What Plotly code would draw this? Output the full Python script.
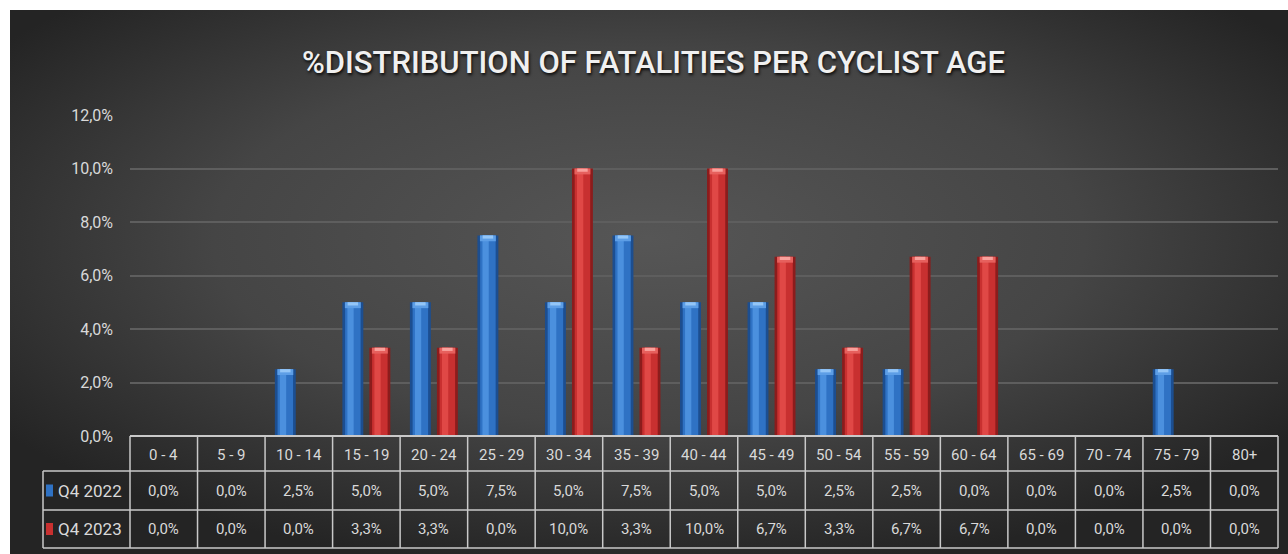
import base64
import plotly.graph_objects as go

# ---- data -------------------------------------------------------------
age_groups = ["0 - 4", "5 - 9", "10 - 14", "15 - 19", "20 - 24", "25 - 29", "30 - 34",
              "35 - 39", "40 - 44", "45 - 49", "50 - 54", "55 - 59", "60 - 64",
              "65 - 69", "70 - 74", "75 - 79", "80+"]
q4_2022 = [0.0, 0.0, 2.5, 5.0, 5.0, 7.5, 5.0, 7.5, 5.0, 5.0, 2.5, 2.5, 0.0, 0.0, 0.0, 2.5, 0.0]
q4_2023 = [0.0, 0.0, 0.0, 3.3, 3.3, 0.0, 10.0, 3.3, 10.0, 6.7, 3.3, 6.7, 6.7, 0.0, 0.0, 0.0, 0.0]
series_names = ["Q4 2022", "Q4 2023"]
y_tick_values = [0, 2, 4, 6, 8, 10, 12]
y_tick_labels = ["0,0%", "2,0%", "4,0%", "6,0%", "8,0%", "10,0%", "12,0%"]
title_text = "%DISTRIBUTION OF FATALITIES PER CYCLIST AGE"

# ---- geometry -----------------------------------------------------------
W, H = 1288, 554
L, R, T, B = 130, 10, 115, 118
PW, PH = W - L - R, H - T - B
N = len(age_groups)

FONT = "Roboto, Liberation Sans, sans-serif"
TXT = "#d9d9d9"
LINE = "#c9c9c9"


def px_x(X):
    return (X - L) / PW


def px_y(Y):
    return (H - B - Y) / PH


def pct(v):
    return f"{v:.1f}".replace(".", ",") + "%"


# bar styling: (edge, body, shine, cap outer, cap inner)
styles = [
    ("#1c4e90", "#2f72c4", "#4b90de", "#5d9ee6", "#94c6f7"),
    ("#8c1c1c", "#c83030", "#e04846", "#e6605d", "#f9a19c"),
]
offsets = [-0.355, 0.045]
bar_w = 0.31
cap_h = 0.22

fig = go.Figure()

for vals, name, (edge, body, shine, cap_o, cap_i), off in zip(
        [q4_2022, q4_2023], series_names, styles, offsets):
    y = [v if v > 0 else None for v in vals]
    cap_base = [v - cap_h if v > 0 else None for v in vals]
    cap_y = [cap_h if v > 0 else None for v in vals]
    inner_base = [v - cap_h * 0.55 if v > 0 else None for v in vals]
    inner_y = [cap_h * 0.55 if v > 0 else None for v in vals]
    layers = [
        (y, None, edge, off, bar_w),
        (y, None, body, off + 0.13 * bar_w, 0.74 * bar_w),
        (y, None, shine, off + 0.24 * bar_w, 0.30 * bar_w),
        (cap_y, cap_base, cap_o, off + 0.12 * bar_w, 0.76 * bar_w),
        (inner_y, inner_base, cap_i, off + 0.25 * bar_w, 0.50 * bar_w),
    ]
    for yy, base, color, o, w in layers:
        fig.add_trace(go.Bar(
            x=age_groups, y=yy, base=base, name=name, offset=o, width=w,
            marker=dict(color=color, line=dict(width=0)),
            showlegend=False, hoverinfo="skip",
        ))

# ---- background ---------------------------------------------------------
svg = (
    '<svg xmlns="http://www.w3.org/2000/svg" width="1278" height="544" '
    'viewBox="0 0 1278 544" preserveAspectRatio="none">'
    '<defs><radialGradient id="g" cx="0.5" cy="0.42" r="0.62">'
    '<stop offset="0" stop-color="#565656"/>'
    '<stop offset="0.55" stop-color="#454545"/>'
    '<stop offset="1" stop-color="#242424"/>'
    '</radialGradient></defs>'
    '<rect width="1278" height="544" fill="url(#g)"/></svg>'
)
bg_src = "data:image/svg+xml;base64," + base64.b64encode(svg.encode()).decode()

shapes = []
annotations = []

# ---- data table under the axis -------------------------------------------
row_top = [436, 471, 510, 548]
label_left = 43
right_edge = L + PW


def hline(Y, X0, X1, w=1.5):
    shapes.append(dict(type="line", xref="paper", yref="paper",
                       x0=px_x(X0), x1=px_x(X1), y0=px_y(Y), y1=px_y(Y),
                       line=dict(color=LINE, width=w)))


def vline(xp, Y0, Y1, w=1.5):
    shapes.append(dict(type="line", xref="paper", yref="paper",
                       x0=xp, x1=xp, y0=px_y(Y0), y1=px_y(Y1),
                       line=dict(color=LINE, width=w)))


def label(x, y, text, size=15, xanchor="center"):
    annotations.append(dict(xref="paper", yref="paper", x=x, y=y, text=text,
                            xanchor=xanchor, yanchor="middle", showarrow=False,
                            font=dict(family=FONT, size=size, color=TXT)))


hline(row_top[0], L, right_edge, 2)
for Y in row_top[1:]:
    hline(Y, label_left, right_edge)
for i in range(N + 1):
    vline(i / N, row_top[0], row_top[3])
vline(px_x(label_left), row_top[1], row_top[3])

# header row (category labels)
for i, g in enumerate(age_groups):
    label((i + 0.5) / N, px_y((row_top[0] + row_top[1]) / 2 + 1), g)

# value rows with legend keys
for r, (vals, name, st) in enumerate(zip([q4_2022, q4_2023], series_names, styles)):
    ym = (row_top[r + 1] + row_top[r + 2]) / 2
    for i, v in enumerate(vals):
        label((i + 0.5) / N, px_y(ym), pct(v))
    label(px_x(56), px_y(ym), name, size=17, xanchor="left")
    shapes.append(dict(type="rect", xref="paper", yref="paper",
                       x0=px_x(46), x1=px_x(53), y0=px_y(ym - 6), y1=px_y(ym + 6),
                       fillcolor=st[1], line=dict(width=0)))

# ---- title --------------------------------------------------------------
annotations.append(dict(xref="paper", yref="paper", x=px_x(653), y=px_y(62),
                        xanchor="center", yanchor="middle",
                        text=title_text, showarrow=False,
                        font=dict(family=FONT, size=31, color="#f0f0f0", weight=500,
                                  shadow="1px 2px 3px rgba(0,0,0,0.85)")))

fig.update_layout(
    width=W, height=H,
    margin=dict(l=L, r=R, t=T, b=B, pad=0),
    paper_bgcolor="#ffffff",
    plot_bgcolor="rgba(0,0,0,0)",
    barmode="overlay",
    showlegend=False,
    images=[dict(source=bg_src, xref="paper", yref="paper",
                 x=px_x(10), y=px_y(10), sizex=(W - 10) / PW, sizey=(H - 10) / PH,
                 xanchor="left", yanchor="top", sizing="stretch", layer="below")],
    shapes=shapes,
    annotations=annotations,
    xaxis=dict(type="category", range=[-0.5, N - 0.5], showticklabels=False,
               showgrid=False, zeroline=False, showline=False, fixedrange=True),
    yaxis=dict(range=[0, 12], tickvals=y_tick_values, ticktext=y_tick_labels,
               showgrid=True, gridcolor="#5e5e5e", gridwidth=1.5, zeroline=False,
               showline=False, ticks="", ticklabelstandoff=16,
               tickfont=dict(family=FONT, size=16, color=TXT), fixedrange=True),
)

fig.write_html("out.html", config={"displayModeBar": False})
